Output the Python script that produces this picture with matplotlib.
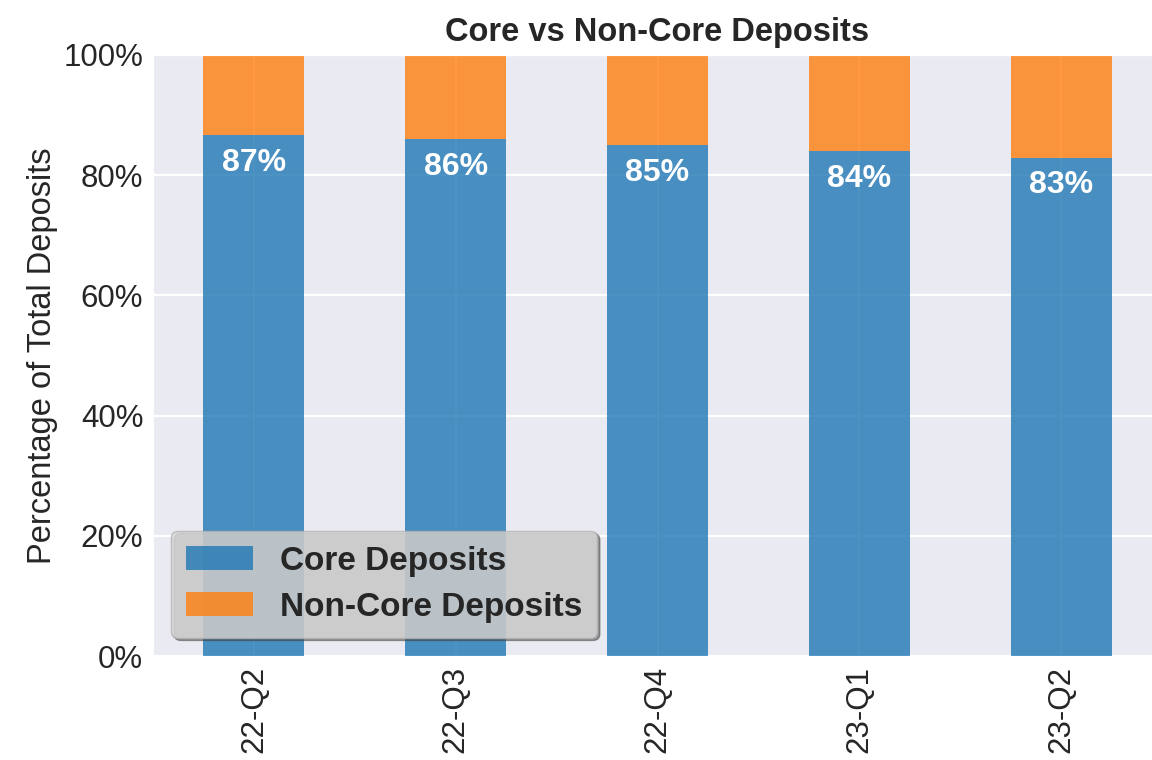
import matplotlib
matplotlib.use("Agg")
import matplotlib.pyplot as plt
import seaborn as sns
import numpy as np
from matplotlib.ticker import PercentFormatter

quarters = ["22-Q2", "22-Q3", "22-Q4", "23-Q1", "23-Q2"]
core = [86.7, 86.0, 85.0, 84.0, 82.9]
non_core = [100 - c for c in core]

sns.set_style("darkgrid")
plt.rcParams['font.family'] = ['Liberation Sans', 'DejaVu Sans']

fig = plt.figure(figsize=(11.52, 7.6), dpi=100)
ax = fig.add_axes([153/1152, 1 - 656/760, (1162 - 153)/1152, (656 - 55)/760])
ax.grid(True, color='white', linewidth=1.6)

x = np.arange(len(quarters))
ax.bar(x, core, width=0.5, color='#1f77b4', alpha=0.8, linewidth=0, label='Core Deposits')
ax.bar(x, non_core, width=0.5, bottom=core, color='#ff7f0e', alpha=0.8, linewidth=0,
       label='Non-Core Deposits')

for xi, c in zip(x, core):
    ax.text(xi, c - 4.6, f"{round(c)}%", ha='center', va='center', color='white',
            fontsize=23, fontweight='bold')

ax.set_xlim(-0.5, 4.5)
ax.set_ylim(0, 100)
ax.set_xticks(x)
ax.set_xticklabels(quarters, rotation=90, fontsize=22.5)
ax.yaxis.set_major_formatter(PercentFormatter(decimals=0))
ax.tick_params(axis='y', labelsize=22.5)
ax.set_ylabel("Percentage of Total Deposits", fontsize=23.5)
ax.set_title("Core vs Non-Core Deposits", fontsize=23.5, fontweight='bold', pad=10)

leg = ax.legend(loc='lower left', shadow=True, frameon=True, framealpha=0.8,
                facecolor='#dadada', edgecolor='#b0b0b0',
                prop={'size': 24, 'weight': 'bold'}, handlelength=2.0,
                borderaxespad=0.55, handletextpad=0.8, labelspacing=0.45,
                borderpad=0.45)

fig.savefig("out.png", dpi=100)
